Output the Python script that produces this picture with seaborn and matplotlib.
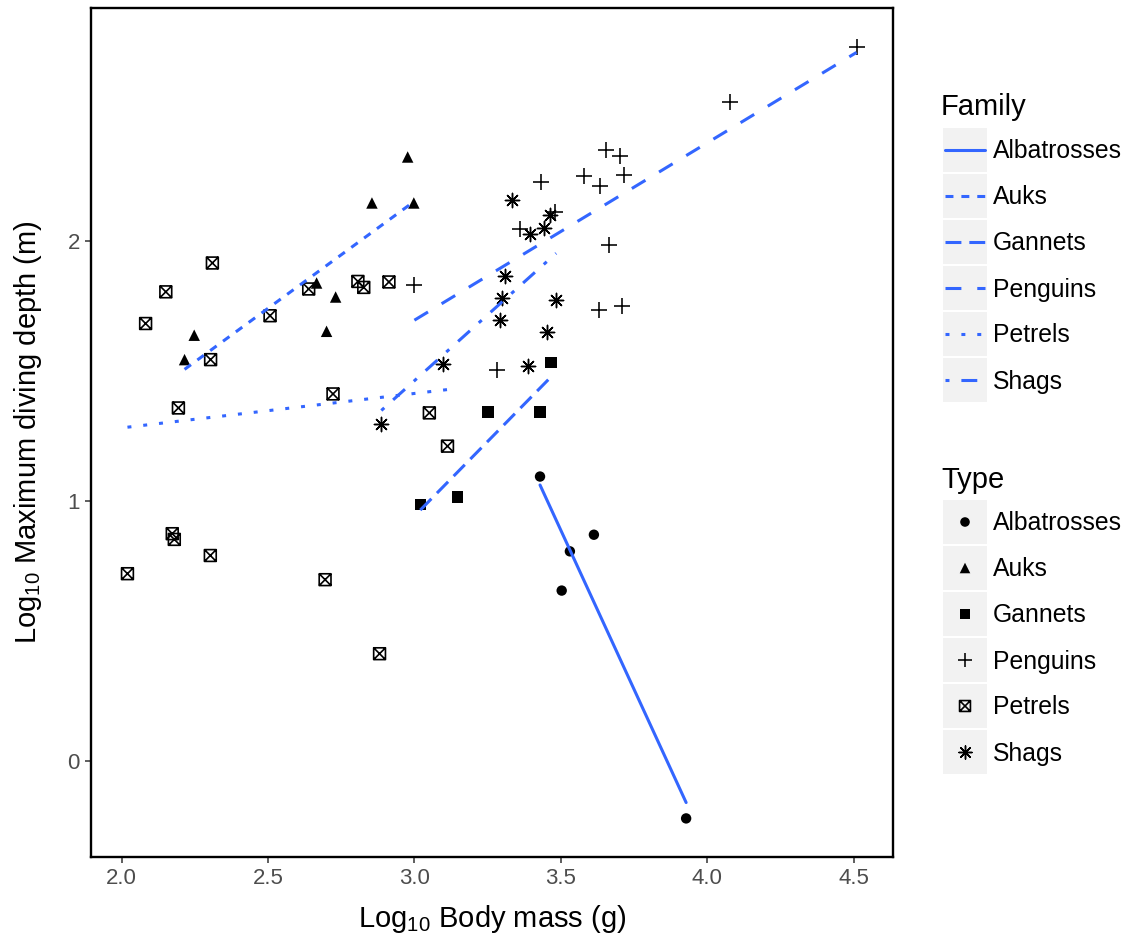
import numpy as np
import pandas as pd
import matplotlib
matplotlib.use("Agg")
import matplotlib.pyplot as plt
from matplotlib.path import Path
from matplotlib.markers import MarkerStyle
import seaborn as sns

# ---- data: log10 body mass (g) and log10 maximum diving depth (m) ----
families = ["Albatrosses", "Auks", "Gannets", "Penguins", "Petrels", "Shags"]

albatross_mass = [3.429, 3.531, 3.613, 3.503, 3.928]
albatross_depth = [1.094, 0.806, 0.870, 0.655, -0.222]

auk_mass = [2.977, 2.855, 2.998, 2.666, 2.731, 2.700, 2.248, 2.215]
auk_depth = [2.324, 2.147, 2.147, 1.839, 1.785, 1.653, 1.638, 1.544]

gannet_mass = [3.467, 3.251, 3.429, 3.147, 3.020]
gannet_depth = [1.532, 1.342, 1.342, 1.015, 0.987]

penguin_mass = [4.510, 4.079, 3.655, 3.701, 3.717, 3.579, 3.634, 3.664,
                3.629, 3.708, 3.431, 3.479, 3.361, 3.000, 3.281]
penguin_depth = [2.749, 2.534, 2.352, 2.326, 2.256, 2.252, 2.213, 1.987,
                 1.734, 1.749, 2.226, 2.111, 2.048, 1.833, 1.503]

petrel_mass = [2.310, 2.151, 2.082, 2.507, 2.304, 2.639, 2.807, 2.827, 2.913,
               2.722, 2.194, 3.051, 3.113, 2.173, 2.180, 2.303, 2.020, 2.695,
               2.881]
petrel_depth = [1.916, 1.805, 1.683, 1.713, 1.544, 1.816, 1.845, 1.822, 1.843,
                1.412, 1.358, 1.339, 1.211, 0.874, 0.852, 0.790, 0.720, 0.697,
                0.412]

shag_mass = [3.332, 3.462, 3.442, 3.395, 3.310, 3.300, 3.484, 3.291, 3.453,
             3.389, 3.099, 2.887]
shag_depth = [2.157, 2.102, 2.051, 2.029, 1.865, 1.782, 1.775, 1.695, 1.651,
              1.518, 1.528, 1.297]

x_ticks = [2.0, 2.5, 3.0, 3.5, 4.0, 4.5]
x_tick_labels = ["2.0", "2.5", "3.0", "3.5", "4.0", "4.5"]
y_ticks = [0, 1, 2]
y_tick_labels = ["0", "1", "2"]

masses = [albatross_mass, auk_mass, gannet_mass, penguin_mass, petrel_mass, shag_mass]
depths = [albatross_depth, auk_depth, gannet_depth, penguin_depth, petrel_depth, shag_depth]

rows = []
for fam, xs, ys in zip(families, masses, depths):
    rows += [(fam, x, y) for x, y in zip(xs, ys)]
df = pd.DataFrame(rows, columns=["Family", "mass", "depth"])

# ---- styling ----
sns.set_theme(style="white")
plt.rcParams["font.family"] = ["Liberation Sans", "DejaVu Sans"]
plt.rcParams["mathtext.fontset"] = "custom"
plt.rcParams["mathtext.rm"] = "Liberation Sans"
plt.rcParams["mathtext.default"] = "regular"

LINE_BLUE = "#3366FF"
KEY_BG = "#F2F2F2"
U = 1.3  # dash unit relative to line width
line_styles = {
    "Albatrosses": "solid",
    "Auks": (0, (2 * U, 2 * U)),
    "Gannets": (0, (4 * U, 2 * U)),
    "Penguins": (0, (4 * U, 4 * U)),
    "Petrels": (0, (1 * U, 3 * U)),
    "Shags": (0, (1 * U, 3 * U, 4 * U, 3 * U)),
}
LINE_W = 2.2

# square with a cross inside
box_cross = Path(
    [(-1, -1), (1, -1), (1, 1), (-1, 1), (-1, -1),
     (-1, -1), (1, 1), (-1, 1), (1, -1)],
    [Path.MOVETO, Path.LINETO, Path.LINETO, Path.LINETO, Path.CLOSEPOLY,
     Path.MOVETO, Path.LINETO, Path.MOVETO, Path.LINETO],
)

marker_specs = {
    "Albatrosses": dict(marker="o", s=56, lw=0),
    "Auks": dict(marker="^", s=68, lw=0),
    "Gannets": dict(marker="s", s=68, lw=0),
    "Penguins": dict(marker="+", s=135, lw=1.15),
    "Petrels": dict(marker=box_cross, s=72, lw=1.2),
    "Shags": dict(marker=(8, 2, 0), s=105, lw=1.05),
}


def marker_kwargs(spec):
    """Colour settings for solid glyphs, line-art glyphs and outlined paths."""
    m = spec["marker"]
    if isinstance(m, Path):
        return dict(facecolor="none", edgecolor="black", linewidth=spec["lw"])
    if MarkerStyle(m).is_filled():
        return dict(color="black", edgecolor="none", linewidth=0)
    return dict(color="black", linewidth=spec["lw"])


W, H = 1129, 939
fig = plt.figure(figsize=(W / 100, H / 100), dpi=100)
ax = fig.add_axes([91 / W, 1 - 857 / H, (893 - 91) / W, (857 - 8) / H])

for fam in families:
    sub = df[df["Family"] == fam]
    spec = marker_specs[fam]
    sns.scatterplot(data=sub, x="mass", y="depth", marker=spec["marker"],
                    s=spec["s"], ax=ax, legend=False, zorder=2,
                    **marker_kwargs(spec))

for fam in families:
    sub = df[df["Family"] == fam]
    sns.regplot(data=sub, x="mass", y="depth", scatter=False, ci=None,
                truncate=True, color=LINE_BLUE, ax=ax,
                line_kws=dict(linestyle=line_styles[fam], linewidth=LINE_W,
                              zorder=3))

# ggplot-like 5% expansion of the data range
xmin, xmax = df["mass"].min(), df["mass"].max()
ymin, ymax = df["depth"].min(), df["depth"].max()
ax.set_xlim(xmin - 0.05 * (xmax - xmin), xmax + 0.05 * (xmax - xmin))
ax.set_ylim(ymin - 0.05 * (ymax - ymin), ymax + 0.05 * (ymax - ymin))

ax.set_xticks(x_ticks)
ax.set_xticklabels(x_tick_labels)
ax.set_yticks(y_ticks)
ax.set_yticklabels(y_tick_labels)
ax.tick_params(axis="both", which="both", length=4, width=1.1, color="#333333",
               labelcolor="#4D4D4D", labelsize=16, pad=4, direction="out",
               bottom=True, left=True)
for sp in ax.spines.values():
    sp.set_visible(True)
    sp.set_color("black")
    sp.set_linewidth(1.7)
ax.set_facecolor("white")
ax.grid(False)

ax.set_xlabel("Log$_{10}$ Body mass (g)", fontsize=21, color="black", labelpad=10)
ax.set_ylabel("Log$_{10}$ Maximum diving depth (m)", fontsize=21, color="black",
              labelpad=17)

# ---- legends on the right ----
KEY_X, KEY_W, KEY_H, KEY_STEP = 943, 44, 44, 46
LABEL_X = 993
LABEL_SIZE = 17.8


def key_axes(top):
    kax = fig.add_axes([KEY_X / W, 1 - (top + KEY_H) / H, KEY_W / W, KEY_H / H])
    kax.set_facecolor(KEY_BG)
    kax.set_xlim(0, 1)
    kax.set_ylim(0, 1)
    kax.set_xticks([])
    kax.set_yticks([])
    for sp in kax.spines.values():
        sp.set_visible(False)
    return kax


fig.text(941 / W, 1 - 115 / H, "Family", fontsize=21, color="black", va="baseline")
for i, fam in enumerate(families):
    top = 128 + i * KEY_STEP
    kax = key_axes(top)
    kax.plot([0.05, 0.95], [0.5, 0.5], color=LINE_BLUE,
             linestyle=line_styles[fam], linewidth=LINE_W)
    fig.text(LABEL_X / W, 1 - (top + KEY_H / 2 + 8.5) / H, fam,
             fontsize=LABEL_SIZE, color="black", va="baseline")

fig.text(941 / W, 1 - 488 / H, "Type", fontsize=21, color="black", va="baseline")
for i, fam in enumerate(families):
    top = 500 + i * KEY_STEP
    kax = key_axes(top)
    spec = marker_specs[fam]
    kax.scatter([0.5], [0.5], marker=spec["marker"], s=spec["s"] * 0.85,
                **marker_kwargs(spec))
    fig.text(LABEL_X / W, 1 - (top + KEY_H / 2 + 8.5) / H, fam,
             fontsize=LABEL_SIZE, color="black", va="baseline")

fig.savefig("out.png", dpi=100, facecolor="white")
